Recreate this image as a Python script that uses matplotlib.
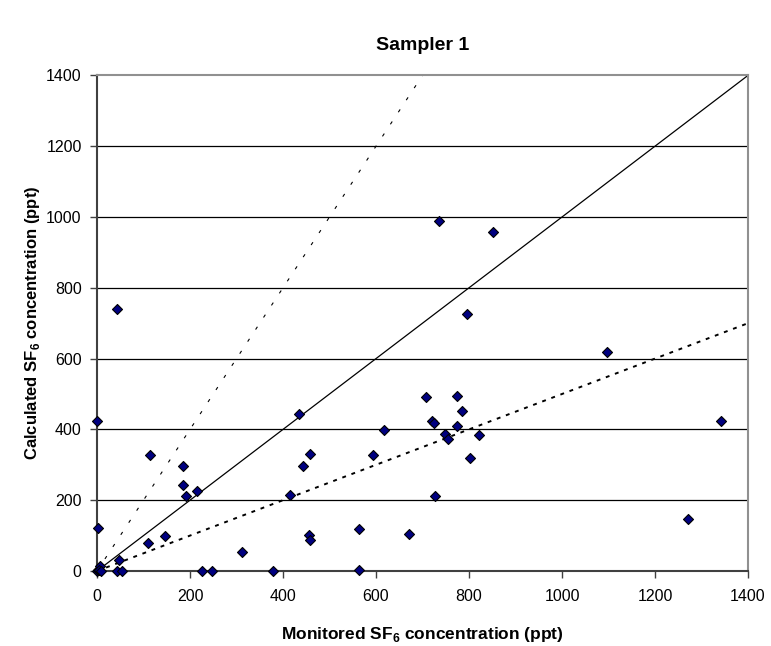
import matplotlib
matplotlib.use("Agg")
import matplotlib.pyplot as plt
import numpy as np

plt.rcParams['font.family'] = ['Liberation Sans', 'DejaVu Sans']
plt.rcParams['mathtext.fontset'] = 'custom'
plt.rcParams['mathtext.rm'] = 'Liberation Sans'
plt.rcParams['mathtext.bf'] = 'Liberation Sans:bold'

title = "Sampler 1"
xlabel = r"Monitored SF$_\mathbf{6}$ concentration (ppt)"
ylabel = r"Calculated SF$_\mathbf{6}$ concentration (ppt)"

monitored = [0, 3, 0, 2, 6, 4, 8, 44, 42, 54, 47, 109, 114, 146, 185, 184, 192, 216,
             226, 248, 312, 378, 416, 434, 442, 455, 457, 459, 563, 564, 593, 617,
             670, 708, 721, 724, 726, 736, 749, 754, 775, 775, 786, 796, 803, 822,
             851, 1097, 1270, 1342]
calculated = [423, 121, 0, 3, 15, 2, 0, 740, 0, 0, 31, 79, 327, 99, 298, 242, 212, 226,
              0, 0, 53, 0, 214, 444, 296, 101, 331, 88, 3, 118, 328, 398,
              104, 491, 423, 419, 212, 988, 388, 373, 493, 410, 451, 726, 320, 383,
              958, 618, 147, 423]

ref_ratios = [1.0, 0.5, 2.0]
ref_styles = [
    dict(linestyle='-', linewidth=0.9, color='black'),
    dict(linestyle=(0, (2, 3)), linewidth=1.4, color='black'),
    dict(linestyle=(0, (3, 10)), linewidth=0.8, color='black'),
]

xticks = [0, 200, 400, 600, 800, 1000, 1200, 1400]
yticks = [0, 200, 400, 600, 800, 1000, 1200, 1400]
lim = 1400

fig = plt.figure(figsize=(7.71, 6.46), dpi=100)
ax = fig.add_axes([97/771, 1 - 571/646, (748 - 97)/771, (571 - 75.4)/646])

for yv in yticks[1:-1]:
    ax.axhline(yv, color='black', linewidth=0.9, zorder=1)

for r, st in zip(ref_ratios, ref_styles):
    xe = min(lim, lim / r)
    ax.plot([0, xe], [0, r * xe], zorder=2, clip_on=False, **st)

ax.scatter(monitored, calculated, marker='D', s=26, facecolor='#000080',
           edgecolor='black', linewidth=0.8, zorder=5, clip_on=False)

ax.set_xlim(0, lim)
ax.set_ylim(0, lim)
ax.set_xticks(xticks)
ax.set_yticks(yticks)
ax.tick_params(axis='both', direction='out', length=5, width=1, color='#404040',
               labelsize=11.5, pad=6)
ax.tick_params(axis='x', pad=8)

for side in ['left', 'bottom']:
    ax.spines[side].set_color('#404040')
    ax.spines[side].set_linewidth(1.5)
for side in ['top', 'right']:
    ax.spines[side].set_color('#909090')
    ax.spines[side].set_linewidth(1.5)

ax.set_xlabel(xlabel, fontsize=12.5, fontweight='bold', labelpad=15)
ax.set_ylabel(ylabel, fontsize=12, fontweight='bold', labelpad=3)
fig.text((97 + 748) / 2 / 771, 1 - 46 / 646, title, ha='center',
         va='center', fontsize=14, fontweight='bold')

fig.savefig('out.png', dpi=100)
